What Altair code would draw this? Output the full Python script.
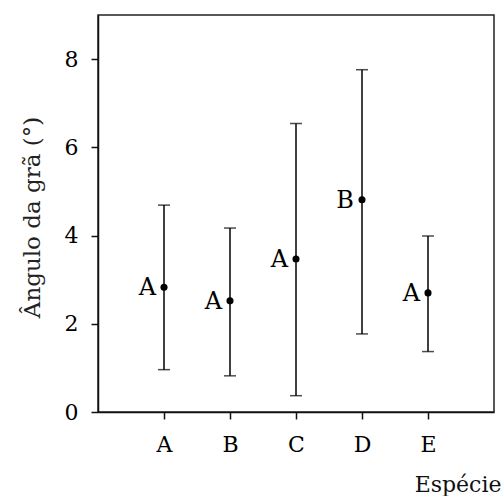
import altair as alt
import pandas as pd

especies = ["A", "B", "C", "D", "E"]
media = [2.83, 2.52, 3.47, 4.81, 2.70]
inferior = [0.96, 0.82, 0.37, 1.77, 1.37]
superior = [4.69, 4.17, 6.54, 7.76, 3.99]
letras = ["A", "A", "A", "B", "A"]

df = pd.DataFrame({
    "especie": especies,
    "media": media,
    "inf": inferior,
    "sup": superior,
    "letra": letras,
})

FONT = "DejaVu Serif"

x = alt.X("especie:N", scale=alt.Scale(type="point", padding=1),
          axis=alt.Axis(title="Espécie", labelAngle=0, labelFontSize=22,
                        labelFont=FONT, labelColor="#000", labelPadding=15,
                        tickSize=7, tickWidth=1.5, tickColor="#111",
                        domainColor="#111", domainWidth=1.5,
                        titleFont=FONT, titleFontSize=22, titleFontWeight="normal",
                        titleColor="#111", titleAnchor="end", titleAlign="right",
                        titleBaseline="middle", titleX=403, titleY=72))

y_scale = alt.Scale(domain=[0, 9], nice=False)
y_axis = alt.Axis(title="Ângulo da grã (°)", values=[0, 2, 4, 6, 8], grid=False,
                  labelFontSize=22, labelFont=FONT, labelColor="#000", labelPadding=13,
                  tickSize=7, tickWidth=1.5, tickColor="#111",
                  domainColor="#111", domainWidth=1.5,
                  titleFont=FONT, titleFontSize=23, titleFontWeight="normal",
                  titleColor="#222", titleAngle=270, titleAlign="center",
                  titleBaseline="middle", titleX=-66, titleY=202)

base = alt.Chart(df)

rules = base.mark_rule(color="black", strokeWidth=1.5).encode(
    x=x,
    y=alt.Y("inf:Q", scale=y_scale, axis=y_axis),
    y2="sup:Q",
)

caps_top = base.mark_tick(color="black", size=12, thickness=1.5).encode(
    x=x, y=alt.Y("sup:Q", scale=y_scale, axis=y_axis))
caps_bot = base.mark_tick(color="black", size=12, thickness=1.5).encode(
    x=x, y=alt.Y("inf:Q", scale=y_scale, axis=y_axis))

points = base.mark_circle(color="black", size=50, opacity=1).encode(
    x=x, y=alt.Y("media:Q", scale=y_scale, axis=y_axis))

labels = base.mark_text(font=FONT, fontSize=24, align="right", baseline="middle",
                        dx=-8, dy=1, color="#000").encode(
    x=x, y=alt.Y("media:Q", scale=y_scale, axis=y_axis), text="letra:N")

chart = alt.layer(rules, caps_top, caps_bot, points, labels).properties(
    width=396, height=397,
    autosize=alt.AutoSizeParams(type="none"),
    padding={"left": 98, "top": 15, "right": 8, "bottom": 84},
    background="white",
).configure_view(stroke="#222", strokeWidth=1.5)

chart.save("out.html", embed_options={"renderer": "svg", "actions": False})
